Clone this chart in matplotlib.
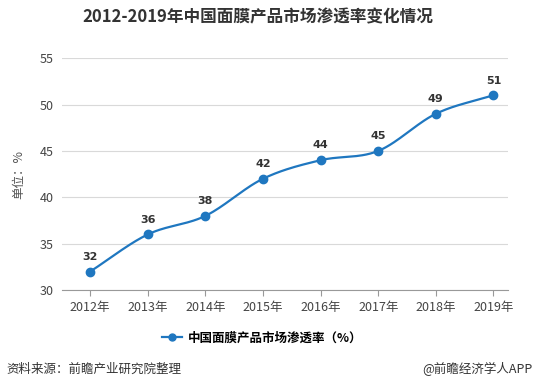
import matplotlib
matplotlib.use("Agg")
import matplotlib.pyplot as plt
import numpy as np

plt.rcParams['font.family'] = ['Noto Sans CJK SC', 'DejaVu Sans']

years = ["2012年", "2013年", "2014年", "2015年", "2016年", "2017年", "2018年", "2019年"]
rates = [32, 36, 38, 42, 44, 45, 49, 51]

LINE_COLOR = "#1f77c0"


def smooth_curve(x, y, steps=30):
    """Catmull-Rom style smoothing through the points"""
    x = np.asarray(x, dtype=float)
    y = np.asarray(y, dtype=float)
    px = np.concatenate([[2 * x[0] - x[1]], x, [2 * x[-1] - x[-2]]])
    py = np.concatenate([[2 * y[0] - y[1]], y, [2 * y[-1] - y[-2]]])
    xs, ys = [], []
    t = np.linspace(0, 1, steps)
    for i in range(1, len(px) - 2):
        for arr, out in ((px, xs), (py, ys)):
            p0, p1, p2, p3 = arr[i - 1], arr[i], arr[i + 1], arr[i + 2]
            seg = 0.5 * (2 * p1 + (-p0 + p2) * t
                         + (2 * p0 - 5 * p1 + 4 * p2 - p3) * t ** 2
                         + (-p0 + 3 * p1 - 3 * p2 + p3) * t ** 3)
            out.extend(seg)
    return np.array(xs), np.array(ys)


fig = plt.figure(figsize=(5.38, 3.9), dpi=100)
ax = fig.add_axes([0.115, 0.256, 0.83, 0.595])

x_pos = np.arange(len(years))
sx, sy = smooth_curve(x_pos, rates)
ax.plot(sx, sy, color=LINE_COLOR, linewidth=1.6, zorder=3)
ax.plot(x_pos, rates, 'o', color=LINE_COLOR, markersize=6, zorder=4)

for xp, val in zip(x_pos, rates):
    ax.annotate(str(val), (xp, val), xytext=(0, 7), textcoords="offset points",
                ha="center", va="bottom", fontsize=8, fontweight="bold",
                color="#333333", family="DejaVu Sans")

ax.set_ylim(30, 55)
ax.set_yticks(range(30, 56, 5))
ax.set_xlim(-0.49, 7.26)
ax.set_xticks(x_pos)
ax.set_xticklabels(years)
ax.tick_params(axis="y", length=0, labelsize=9, colors="#444444", pad=6)
ax.tick_params(axis="x", length=4, color="#999999", labelsize=9,
               colors="#444444")
ax.yaxis.grid(True, color="#d9d9d9", linewidth=0.8)
ax.set_axisbelow(True)
for side in ("top", "right", "left"):
    ax.spines[side].set_visible(False)
ax.spines["bottom"].set_color("#999999")
ax.set_ylabel("单位：%", fontsize=9, color="#555555", labelpad=10)

fig.text(0.48, 0.955, "2012-2019年中国面膜产品市场渗透率变化情况",
         ha="center", va="center", fontsize=12, fontweight="bold",
         color="#333333")

# legend
ax.plot([], [], '-o', color=LINE_COLOR, markersize=5, linewidth=1.6,
        label="中国面膜产品市场渗透率（%）")
ax.legend(loc="center", bbox_to_anchor=(0.487, 0.133), bbox_transform=fig.transFigure,
          frameon=False, prop={"size": 9, "weight": "bold"},
          handlelength=1.6, handletextpad=0.5)

fig.text(0.012, 0.054, "资料来源：前瞻产业研究院整理", ha="left", va="center",
         fontsize=9, color="#333333")
fig.text(0.99, 0.054, "@前瞻经济学人APP", ha="right", va="center",
         fontsize=9, color="#333333")

fig.savefig("out.png", dpi=100)
